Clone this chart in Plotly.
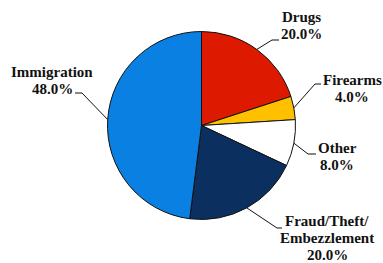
import math
import plotly.graph_objects as go

categories = ["Drugs", "Firearms", "Other", "Fraud/Theft/<br>Embezzlement", "Immigration"]
values = [20.0, 4.0, 8.0, 20.0, 48.0]
colors = ["#DD1A00", "#FFC000", "#FFFFFF", "#0B2F5E", "#0A80E2"]

W, H = 383, 263
cx, cy, R = 201.5, 125.5, 94.0
LINE = 17.2

# label layout (pixels): text centre x, first line centre y, kink point, horizontal end
label_layout = [
    dict(tx=301, ty=17, kx=272, ky=40, hx=279),
    dict(tx=352, ty=80, kx=315, ky=84, hx=321),
    dict(tx=337, ty=148, kx=308, ky=154, hx=316),
    dict(tx=327, ty=221, kx=277, ky=228, hx=282),
    dict(tx=52, ty=72, kx=82, ky=93, hx=75),
]

def px(x):
    return x / W

def py(y):
    return 1 - y / H

fig = go.Figure(go.Pie(
    labels=categories, values=values, sort=False, direction="clockwise", rotation=0,
    marker=dict(colors=colors, line=dict(color="#111111", width=1)),
    textinfo="none", hoverinfo="label+percent", showlegend=False,
    domain=dict(x=[px(cx - R), px(cx + R)], y=[py(cy + R), py(cy - R)]),
))

total = sum(values)
cum = 0.0
for cat, v, lay in zip(categories, values, label_layout):
    mid = (cum + v / 2) / total * 2 * math.pi
    cum += v
    ex = cx + R * math.sin(mid)
    ey = cy - R * math.cos(mid)
    path = f"M {px(ex)} {py(ey)} L {px(lay['kx'])} {py(lay['ky'])} L {px(lay['hx'])} {py(lay['ky'])}"
    fig.add_shape(type="path", path=path, xref="paper", yref="paper",
                  line=dict(color="#111111", width=1))
    lines = cat.split("<br>") + [f"{v:.1f}%"]
    for i, line in enumerate(lines):
        fig.add_annotation(x=px(lay["tx"]), y=py(lay["ty"] + i * LINE), xref="paper", yref="paper",
                           text=f"<b>{line}</b>", showarrow=False,
                           align="center", xanchor="center", yanchor="middle",
                           font=dict(family="Liberation Serif", size=15, color="#111111"))

fig.update_layout(width=W, height=H, margin=dict(l=0, r=0, t=0, b=0),
                  paper_bgcolor="white", plot_bgcolor="white")
fig.write_html("out.html", config={"displayModeBar": False},
               post_script="document.body.style.margin='0';")
